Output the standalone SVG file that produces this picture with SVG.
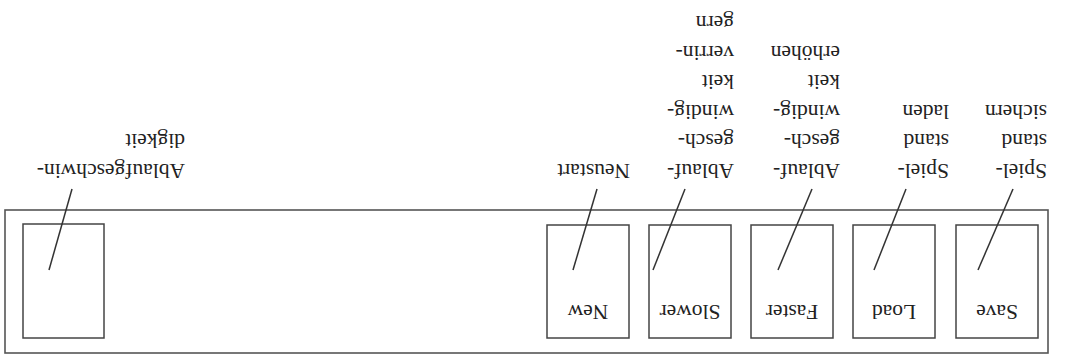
<svg xmlns="http://www.w3.org/2000/svg" width="1065" height="356" viewBox="0 0 1065 356">
<style>
.frame{fill:none;stroke:#555;stroke-width:1.6}
.box{fill:#fff;stroke:#444;stroke-width:1.5}
.lead{stroke:#333;stroke-width:1.5;fill:none}
text{font-family:"Liberation Serif","Times New Roman",serif;font-size:21.5px;fill:#222}
.c{text-anchor:middle}
</style>
<rect width="1065" height="356" fill="#fff"/>
<g transform="rotate(180 532.5 178)">
<rect id="panel" class="frame" x="17" y="3" width="1043" height="143"/>
<g id="save"><rect class="box" x="27" y="18" width="82" height="113"/><text class="c" x="68" y="51">Save</text></g>
<g id="load"><rect class="box" x="130" y="18" width="82" height="113"/><text class="c" x="171" y="51">Load</text></g>
<g id="faster"><rect class="box" x="232" y="18" width="82" height="113"/><text class="c" x="273" y="51">Faster</text></g>
<g id="slower"><rect class="box" x="334" y="18" width="82" height="113"/><text class="c" x="375" y="51">Slower</text></g>
<g id="new"><rect class="box" x="436" y="18" width="82" height="113"/><text class="c" x="477" y="51">New</text></g>
<g id="speed"><rect class="box" x="961" y="18" width="81" height="114"/></g>
<g id="connectors">
<line class="lead" x1="87" y1="86" x2="52" y2="167"/>
<line class="lead" x1="191" y1="86" x2="159" y2="167"/>
<line class="lead" x1="287" y1="86" x2="253" y2="167"/>
<line class="lead" x1="412" y1="86" x2="380" y2="167"/>
<line class="lead" x1="492" y1="86" x2="468" y2="167"/>
<line class="lead" x1="1016" y1="86" x2="993" y2="167"/>
</g>
<g id="label-save"><text x="18" y="192.5">Spiel-</text><text x="18" y="222">stand</text><text x="18" y="251.5">sichern</text></g>
<g id="label-load"><text x="116" y="192.5">Spiel-</text><text x="116" y="222">stand</text><text x="116" y="251.5">laden</text></g>
<g id="label-faster"><text x="225" y="192.5">Ablauf-</text><text x="225" y="222">gesch-</text><text x="225" y="251.5">windig-</text><text x="225" y="281">keit</text><text x="225" y="310.5">erhöhen</text></g>
<g id="label-slower"><text x="331" y="192.5">Ablauf-</text><text x="331" y="222">gesch-</text><text x="331" y="251.5">windig-</text><text x="331" y="281">keit</text><text x="331" y="310.5">verrin-</text><text x="331" y="340">gern</text></g>
<g id="label-new"><text x="435" y="192.5">Neustart</text></g>
<g id="label-speed"><text x="880" y="192.5">Ablaufgeschwin-</text><text x="880" y="222">digkeit</text></g>
</g>
</svg>
